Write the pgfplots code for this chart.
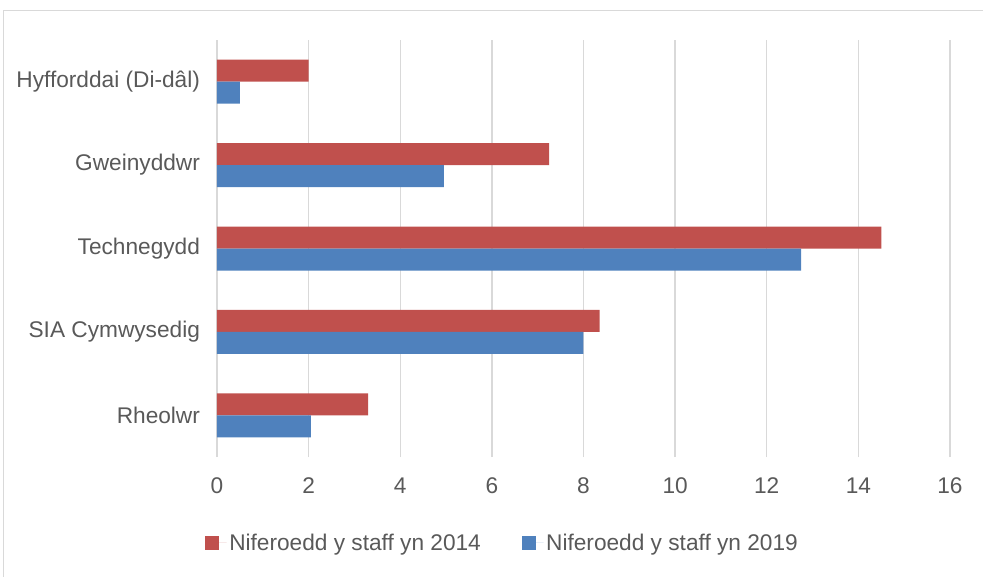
\documentclass[border=0pt]{standalone}
\usepackage{pgfplots}
\pgfplotsset{compat=1.18}
\usepackage{fontspec}
\setmainfont{Liberation Sans}
\definecolor{red14}{HTML}{C0504D}
\definecolor{blue19}{HTML}{4F81BD}
\definecolor{gridgray}{HTML}{D9D9D9}
\definecolor{labelgray}{HTML}{595959}
\begin{document}
\begin{tikzpicture}[x=1pt,y=1pt]
        \begin{axis}[
                at={(0pt,0pt)}, anchor=south west,
                scale only axis,
                width=549.75pt,    % 733px plot area
                height=312.75pt,   % 417px plot area
                xbar,
                xmin=0, xmax=16,
                ymin=-0.5, ymax=4.5,
                xtick={0,2,...,16},
                ytick={0,1,2,3,4},
                yticklabels={Rheolwr, SIA Cymwysedig, Technegydd, Gweinyddwr, Hyfforddai (Di-dâl)},
                xmajorgrids=true,
                grid style={color=gridgray, line width=1pt},
                axis line style={draw=none},
                tick style={draw=none},
                tick label style={font=\fontsize{17}{20}\selectfont, text=labelgray},
                /pgf/number format/assume math mode=true,
                xticklabel style={yshift=-12pt},
                yticklabel style={xshift=-5pt},
                bar width=16.5pt,
                legend style={
                        at={(0.39,-0.206)}, anchor=center,
                        draw=none, fill=none,
                        font=\fontsize{17}{20}\selectfont, text=labelgray,
                        legend columns=2,
                        /tikz/every even column/.append style={column sep=29pt},
                    },
                legend image code/.code={%
                        \fill (0pt,-5.25pt) rectangle (10.5pt,5.25pt);
                        \path (0pt,0pt) -- (16pt,0pt);},
            ]

            % 2014 (upper bar in each group)
            \addplot[fill=red14, draw=none, bar shift=8.25pt]
            coordinates {
                    (3.3,0) (8.35,1) (14.5,2) (7.25,3) (2,4)
                };
            \addlegendentry{Niferoedd y staff yn 2014}

            % 2019 (lower bar in each group)
            \addplot[fill=blue19, draw=none, bar shift=-8.25pt]
            coordinates {
                    (2.05,0) (8,1) (12.75,2) (4.95,3) (0.5,4)
                };
            \addlegendentry{Niferoedd y staff yn 2019}
        \end{axis}
        % outer chart frame
        \draw[color=gridgray, line width=0.75pt] (-159.75pt,-100pt) -- (-159.75pt,334.5pt) -- (600pt,334.5pt);
        \pgfresetboundingbox
        \path[use as bounding box] (-162.75pt,-89.25pt) rectangle (574.5pt,342.75pt);
    \end{tikzpicture}
\end{document}
